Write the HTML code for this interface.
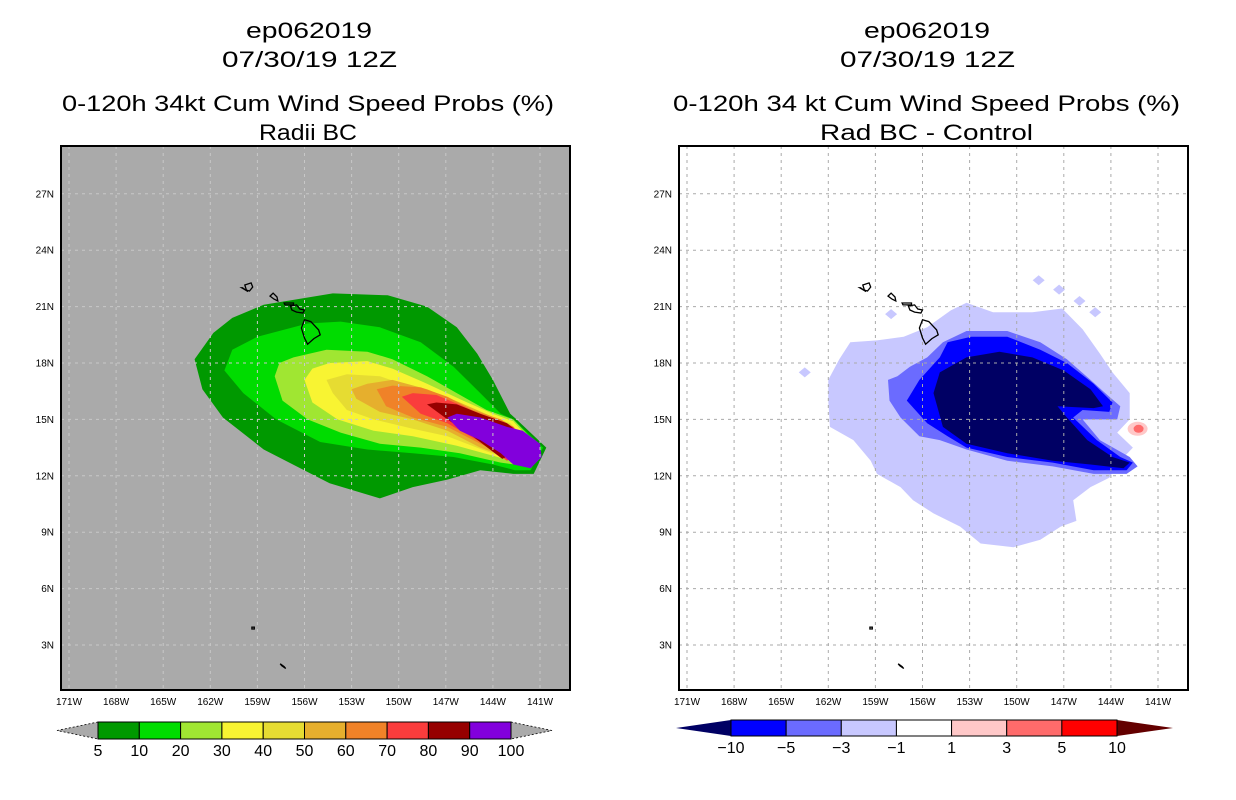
<!DOCTYPE html>
<html><head><meta charset="utf-8"><style>
html,body{margin:0;padding:0;background:#fff;}
svg{display:block;font-family:"Liberation Sans",sans-serif;}
</style></head><body>
<svg id="chart" width="1236" height="800" viewBox="0 0 1236 800" xmlns="http://www.w3.org/2000/svg">
<g font-size="22" fill="#000" text-anchor="start">
<text x="246" y="38" textLength="126" lengthAdjust="spacingAndGlyphs">ep062019</text>
<text x="222" y="67" textLength="175" lengthAdjust="spacingAndGlyphs">07/30/19 12Z</text>
<text x="62" y="111" textLength="492" lengthAdjust="spacingAndGlyphs">0-120h 34kt Cum Wind Speed Probs (%)</text>
<text x="259" y="140" textLength="98" lengthAdjust="spacingAndGlyphs">Radii BC</text>
</g>
<g font-size="22" fill="#000">
<text x="864" y="38" textLength="126" lengthAdjust="spacingAndGlyphs">ep062019</text>
<text x="840" y="67" textLength="175" lengthAdjust="spacingAndGlyphs">07/30/19 12Z</text>
<text x="673" y="111" textLength="507" lengthAdjust="spacingAndGlyphs">0-120h 34 kt Cum Wind Speed Probs (%)</text>
<text x="820" y="140" textLength="213" lengthAdjust="spacingAndGlyphs">Rad BC - Control</text>
</g>
<g id="left-map"></g>
<g id="right-map"></g>
<g id="cbars"></g>
</svg>
<script>
const lonTicks=[171,168,165,162,159,156,153,150,147,144,141];
const latTicks=[27,24,21,18,15,12,9,6,3];
const leftLevelColors=['#009900','#00dc00','#a0e632','#f8f432','#e6dc32','#e6af2d','#f08228','#fa3c3c','#960000','#8200dc'];
const leftLevelLabels=['5','10','20','30','40','50','60','70','80','90','100'];
const lev5=[[163.0,18.2],[161.8,19.6],[160.6,20.4],[158.6,21.1],[154.2,21.7],[150.7,21.6],[148.2,21.0],[146.3,19.9],[145.0,18.5],[144.0,17.1],[142.9,15.3],[142.5,15.0],[140.6,13.5],[141.4,12.1],[142.7,12.1],[144.8,12.3],[146.9,11.8],[149.1,11.4],[151.2,10.8],[154.4,11.6],[156.5,12.5],[158.6,13.4],[161.2,15.1],[162.5,16.6]];
const lev10=[[161.1,17.6],[160.6,18.7],[159.0,19.4],[155.8,20.1],[153.7,20.2],[151.2,19.9],[148.6,19.1],[146.5,17.8],[144.8,16.4],[143.5,15.3],[142.7,15.0],[140.8,13.5],[141.6,12.3],[142.6,12.3],[144.0,12.6],[146.5,13.0],[149.1,13.2],[152.0,13.4],[155.0,13.8],[157.8,15.0],[159.9,16.4]];
const lev20=[[157.9,17.3],[157.6,18.0],[156.7,18.3],[154.6,18.7],[152.0,18.6],[150.4,18.2],[148.2,17.3],[146.3,16.4],[144.4,15.5],[142.7,15.0],[141.0,13.5],[141.8,12.5],[143.5,12.7],[146.1,13.2],[148.6,13.5],[151.2,13.7],[153.7,14.3],[155.8,15.0],[157.4,16.0]];
const lev30=[[156.0,17.1],[155.5,17.7],[154.4,18.0],[152.0,18.1],[150.4,17.7],[148.2,16.9],[145.9,16.0],[144.0,15.3],[142.7,14.9],[141.2,13.5],[142.1,12.6],[143.7,13.0],[146.3,13.6],[149.1,14.1],[151.6,14.4],[153.9,15.0],[155.5,15.9]];
const lev40=[[154.6,17.1],[153.3,17.4],[151.2,17.3],[149.1,16.7],[146.9,16.0],[144.8,15.3],[142.9,14.8],[141.3,13.5],[142.3,12.7],[144.4,13.3],[146.9,14.1],[149.1,14.5],[151.6,15.0],[153.3,15.5],[154.2,16.4]];
const lev50=[[153.0,16.6],[152.0,16.9],[150.4,17.1],[148.2,16.6],[146.1,15.9],[144.2,15.2],[142.9,14.7],[141.5,13.5],[142.5,12.8],[144.8,13.5],[146.9,14.4],[149.1,15.0],[151.2,15.4],[152.7,16.1]];
const lev60=[[151.4,16.6],[150.4,16.8],[148.6,16.7],[146.9,16.2],[145.3,15.5],[143.5,15.0],[142.7,14.6],[141.6,13.5],[142.7,12.9],[144.8,13.7],[146.9,14.6],[149.1,15.1],[150.8,15.7]];
const lev70=[[149.8,16.2],[149.1,16.4],[147.6,16.3],[145.9,15.7],[144.4,15.1],[142.7,14.6],[141.8,13.5],[143.1,12.8],[144.8,13.8],[146.9,14.8],[148.6,15.3]];
const lev80=[[148.2,15.8],[147.6,15.9],[146.3,15.8],[144.8,15.3],[143.1,14.8],[142.5,14.4],[142.0,13.5],[143.4,12.9],[145.3,14.1],[146.9,15.0]];
const lev90=[[146.9,15.1],[146.3,15.3],[144.8,15.1],[143.1,14.6],[142.1,14.4],[141.0,13.7],[140.9,13.0],[141.6,12.4],[142.7,12.6],[143.5,13.2],[144.8,13.9],[146.1,14.4]];
const diffColors=['#000064','#0000ff','#6b6bff','#c8c8ff','#ffffff','#ffc8c8','#ff6b6b','#ff0000','#640000'];
const diffLabels=['-10','-5','-3','-1','1','3','5','10'];
const dNeg1=[[162.0,17.1],[161.3,18.2],[160.6,19.1],[158.9,19.2],[157.2,19.4],[155.7,19.9],[154.2,20.8],[153.2,21.2],[151.5,20.7],[149.0,20.7],[147.1,20.9],[145.8,19.8],[144.7,18.5],[143.9,17.5],[142.8,16.4],[142.8,15.0],[143.6,14.3],[142.6,13.5],[143.4,12.8],[144.1,11.9],[145.3,11.4],[146.4,10.7],[146.2,9.6],[147.2,9.3],[148.5,8.6],[150.2,8.2],[152.3,8.4],[153.6,9.3],[155.3,10.0],[156.6,10.7],[157.4,11.4],[158.9,12.1],[159.3,12.8],[160.4,13.9],[161.9,14.6],[162.0,16.0]];
const dNeg3=[[158.2,17.1],[157.6,17.3],[156.8,17.8],[155.7,18.3],[154.7,19.1],[153.2,19.7],[150.6,19.7],[148.5,19.1],[146.8,18.2],[145.3,17.1],[144.1,16.2],[143.4,15.7],[143.6,15.0],[145.8,15.0],[144.7,13.9],[142.8,13.0],[142.3,12.5],[143.0,12.1],[145.1,12.1],[147.7,12.5],[150.6,12.8],[153.2,13.4],[154.9,13.9],[156.2,14.1],[157.4,15.1],[158.1,16.0]];
const dNeg5=[[157.0,16.0],[156.2,17.1],[154.9,18.3],[154.4,19.1],[152.9,19.4],[150.6,19.4],[148.5,18.7],[146.8,18.0],[145.1,16.9],[143.9,15.9],[144.1,15.4],[145.8,15.5],[146.4,15.1],[144.9,13.9],[143.4,13.0],[142.6,12.7],[143.0,12.3],[145.1,12.3],[147.7,12.7],[150.6,13.0],[153.2,13.5],[154.4,14.1],[155.7,14.8]];
const dNeg10=[[155.3,16.4],[154.9,17.5],[153.2,18.3],[151.1,18.6],[149.0,18.3],[147.0,17.6],[145.3,16.6],[144.5,15.7],[145.1,15.6],[147.4,15.7],[146.8,15.1],[145.5,13.9],[143.9,13.0],[142.8,12.7],[143.2,12.4],[145.3,12.6],[147.7,12.8],[150.6,13.2],[153.2,13.7],[154.7,14.6]];
const patchLon=[148.6,147.3,146.0,145.0,163.5,158.0,151.9];
const patchLat=[22.4,21.9,21.3,20.7,17.5,20.6,20.5];
const posLon=[142.3];
const posLat=[14.5];
const islands=[[[159.6,21.8],[159.95,22.0],[160.0,22.0],[159.7,21.85]],[[159.8,22.15],[159.4,22.26],[159.3,22.04],[159.5,21.83],[159.7,21.88]],[[158.2,21.56],[158.0,21.72],[157.75,21.51],[157.7,21.3],[157.94,21.4]],[[157.3,21.19],[156.7,21.19],[156.7,21.09],[157.24,21.09]],[[156.9,21.03],[156.5,21.09],[156.3,20.87],[156.0,20.82],[156.1,20.66],[156.5,20.71],[156.8,20.82]],[[156.0,20.3],[155.6,20.2],[155.1,19.76],[155.0,19.5],[155.4,19.3],[155.8,19.0],[156.0,19.33],[156.2,19.86]],[[159.35,3.95],[159.2,3.95],[159.2,3.85],[159.35,3.85]],[[157.55,2.0],[157.3,1.85],[157.2,1.75],[157.45,1.9]]];

const NS='http://www.w3.org/2000/svg';
function mk(tag,attrs,parent){const e=document.createElementNS(NS,tag);for(const k in attrs)e.setAttribute(k,attrs[k]);parent.appendChild(e);return e;}
function X(lon,off){return off+69+(171-lon)*15.7;}
function Y(lat){return 645-(lat-3)*18.8;}
function pts(poly,off){return poly.map(p=>X(p[0],off).toFixed(1)+','+Y(p[1]).toFixed(1)).join(' ');}

function drawMap(gid,off,bg,gridColor,levels,colors,names){
  const g=document.getElementById(gid);
  const cp=mk('clipPath',{id:gid+'-clip'},g);
  mk('rect',{x:61+off,y:146,width:509,height:544},cp);
  const bgR=mk('rect',{x:61+off,y:146,width:509,height:544,fill:bg},g);
  
  
  const inner=mk('g',{'clip-path':'url(#'+gid+'-clip)'},g);
  levels.forEach((poly,i)=>{
    const p=mk('polygon',{points:pts(poly,off),fill:colors[i]},inner);
    
    
  });
  return {g,inner};
}
function drawGridAndAxes(g,inner,off,gridColor){
  lonTicks.forEach(l=>{
    const x=X(l,off);
    const ln=mk('line',{x1:x,y1:146,x2:x,y2:690,stroke:gridColor,'stroke-width':1,'stroke-dasharray':'3,4'},inner);
    
    
    const t=mk('text',{x:x,y:705,'font-size':10,'text-anchor':'middle',fill:'#000'},g);
    t.textContent=l+'W';
    
    
  });
  latTicks.forEach(l=>{
    const y=Y(l);
    const ln=mk('line',{x1:61+off,y1:y,x2:570+off,y2:y,stroke:gridColor,'stroke-width':1,'stroke-dasharray':'3,4'},inner);
    
    
    const t=mk('text',{x:54+off,y:y+3.5,'font-size':10,'text-anchor':'end',fill:'#000'},g);
    t.textContent=l+'N';
    
    
  });
  islands.forEach(isl=>{
    const p=mk('polygon',{points:pts(isl,off),fill:'none',stroke:'#000','stroke-width':1.3},inner);
    
    
  });
  const fr=mk('rect',{x:61+off,y:146,width:509,height:544,fill:'none',stroke:'#000','stroke-width':2},g);
  
  
}
// left
const L=drawMap('left-map',0,'#aaaaaa','#c8c8c8',[lev5,lev10,lev20,lev30,lev40,lev50,lev60,lev70,lev80,lev90],leftLevelColors,['prob-5','prob-10','prob-20','prob-30','prob-40','prob-50','prob-60','prob-70','prob-80','prob-90']);
drawGridAndAxes(L.g,L.inner,0,'#c8c8c8');
// right
const R=drawMap('right-map',618,'#ffffff','#aaaaaa',[dNeg1,dNeg3,dNeg5,dNeg10],['#c8c8ff','#6b6bff','#0000ff','#000064'],['diff-neg1','diff-neg3','diff-neg5','diff-neg10']);
patchLon.forEach((lo,i)=>{
  const x=X(lo,618),y=Y(patchLat[i]);
  const p=mk('polygon',{points:`${x-6},${y} ${x},${y-5} ${x+6},${y} ${x},${y+5}`,fill:'#c8c8ff'},R.inner);
  
  
});
posLon.forEach((lo,i)=>{
  const x=X(lo,618),y=Y(posLat[i]);
  const a=mk('ellipse',{cx:x,cy:y,rx:10,ry:7,fill:'#ffc8c8'},R.inner);
  
  
  const b=mk('ellipse',{cx:x+1,cy:y,rx:5,ry:4,fill:'#ff6b6b'},R.inner);
  
  
});
drawGridAndAxes(R.g,R.inner,618,'#aaaaaa');

// colorbars
const cb=document.getElementById('cbars');
function bar(x0,x1,tipL,tipR,yT,yB,cols,tipLc,tipRc,labels,dashedTips){
  const n=cols.length,w=(x1-x0)/n,ym=(yT+yB)/2;
  const tl=mk('polygon',{points:`${tipL},${ym} ${x0},${yT} ${x0},${yB}`,fill:tipLc,stroke:dashedTips?'#000':'none','stroke-width':0.8,'stroke-dasharray':dashedTips?'2,2':''},cb);
  
  
  const tr=mk('polygon',{points:`${tipR},${ym} ${x1},${yT} ${x1},${yB}`,fill:tipRc,stroke:dashedTips?'#000':'none','stroke-width':0.8,'stroke-dasharray':dashedTips?'2,2':''},cb);
  
  
  cols.forEach((c,i)=>{
    const r=mk('rect',{x:x0+i*w,y:yT,width:w,height:yB-yT,fill:c,stroke:'#000','stroke-width':1},cb);
    
    
  });
  labels.forEach((s,i)=>{
    const t=mk('text',{x:x0+i*w,y:yB+17,'font-size':16,'text-anchor':'middle',fill:'#000'},cb);
    t.textContent=s.replace('-','\u2212');
    
    
  });
}
bar(98,511,57,552,722,739,leftLevelColors,'#aaaaaa','#aaaaaa',leftLevelLabels,true);
bar(731,1117,676,1173,720,736,diffColors.slice(1,8),diffColors[0],diffColors[8],diffLabels,false);
</script>
</body></html>
